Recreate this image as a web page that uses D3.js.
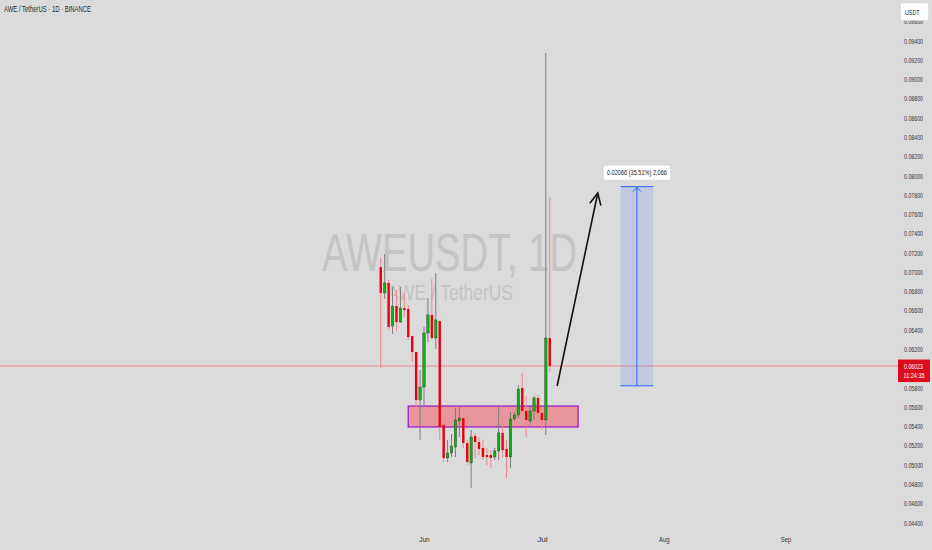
<!DOCTYPE html>
<html>
<head>
<meta charset="utf-8">
<script src="https://cdn.jsdelivr.net/npm/d3@7/dist/d3.min.js"></script>
<style>
  html, body { margin: 0; padding: 0; background: #dbdbdb; }
  svg { display: block; font-family: "Liberation Sans", Arial, sans-serif; }
</style>
</head>
<body>
<svg id="chart" width="932" height="550"></svg>
<script>
// ---------------- DATA ----------------
const dates = ["2025-05-21","2025-05-22","2025-05-23","2025-05-24","2025-05-25","2025-05-26","2025-05-27","2025-05-28","2025-05-29","2025-05-30","2025-05-31",
  "2025-06-01","2025-06-02","2025-06-03","2025-06-04","2025-06-05","2025-06-06","2025-06-07","2025-06-08","2025-06-09","2025-06-10",
  "2025-06-11","2025-06-12","2025-06-13","2025-06-14","2025-06-15","2025-06-16","2025-06-17","2025-06-18","2025-06-19","2025-06-20",
  "2025-06-21","2025-06-22","2025-06-23","2025-06-24","2025-06-25","2025-06-26","2025-06-27","2025-06-28","2025-06-29","2025-06-30",
  "2025-07-01","2025-07-02","2025-07-03"];
const open  = [0.07050,0.06781,0.06885,0.06438,0.06646,0.06480,0.06625,0.06615,0.06335,0.06169,0.05671,
  0.05806,0.06366,0.06553,0.06314,0.06490,0.05412,0.05069,0.05121,0.05183,0.05453,
  0.05484,0.05225,0.05017,0.05298,0.05235,0.05173,0.05100,0.05100,0.05080,0.05142,
  0.05329,0.05163,0.05080,0.05474,0.05516,0.05795,0.05557,0.05453,0.05557,0.05692,
  0.05536,0.05464,0.06314];
const high  = [0.07144,0.07185,0.06916,0.06843,0.06812,0.06843,0.06781,0.06656,0.06335,0.06169,0.05982,
  0.06428,0.06729,0.06926,0.06988,0.06501,0.05484,0.05256,0.05318,0.05588,0.05609,
  0.05495,0.05256,0.05360,0.05329,0.05287,0.05256,0.05173,0.05152,0.05173,0.05598,
  0.05464,0.05256,0.05547,0.05547,0.05826,0.05951,0.05713,0.05598,0.05713,0.05723,
  0.05547,0.09270,0.07777];
const low   = [0.06003,0.06719,0.06397,0.06356,0.06387,0.06470,0.06532,0.06293,0.06065,0.05588,0.05256,
  0.05619,0.06273,0.06293,0.06200,0.05256,0.05028,0.05028,0.05080,0.05080,0.05287,
  0.05173,0.04996,0.04758,0.05069,0.05100,0.05048,0.04996,0.04966,0.05048,0.05048,
  0.05069,0.04862,0.04966,0.05453,0.05484,0.05536,0.05287,0.05412,0.05464,0.05464,
  0.05360,0.05308,0.05961];
const close = [0.06781,0.06885,0.06428,0.06646,0.06480,0.06625,0.06604,0.06324,0.06169,0.05671,0.05806,
  0.06366,0.06553,0.06314,0.06501,0.05391,0.05069,0.05121,0.05194,0.05464,0.05484,
  0.05225,0.05028,0.05287,0.05235,0.05163,0.05080,0.05080,0.05069,0.05142,0.05329,
  0.05152,0.05080,0.05474,0.05516,0.05785,0.05557,0.05464,0.05557,0.05692,0.05536,
  0.05464,0.06314,0.06023];

// 0.06000 is hidden behind the last-price label in the reference
const yTicks = [0.04400,0.04600,0.04800,0.05000,0.05200,0.05400,0.05600,0.05800,0.06200,0.06400,0.06600,0.06800,0.07000,0.07200,0.07400,0.07600,0.07800,0.08000,0.08200,0.08400,0.08600,0.08800,0.09000,0.09200,0.09400,0.09600];
const monthTicks = ["2025-06-01","2025-07-01","2025-08-01","2025-09-01"];

const lastPrice = 0.06023;
const countdown = "11:24:35";
const zone = { start: "2025-05-28", end: "2025-07-10T05:00", low: 0.05391, high: 0.05608 };
const arrowPts = [["2025-07-04T21:00", 0.05816], ["2025-07-15T05:00", 0.07818]];
const measure = { start: "2025-07-21", end: "2025-07-29T08:00", low: 0.05818, high: 0.07884 };
const measureText = "0.02066 (35.51%) 2,066";
const titleText = "AWE / TetherUS · 1D · BINANCE";
const watermark1 = "AWEUSDT, 1D";
const watermark2 = "AWE / TetherUS";

// ---------------- SCALES ----------------
const svg = d3.select("#chart");
const W = 932, H = 550;
const parse = d3.utcParse("%Y-%m-%d");
const parseT = s => s.length > 10 ? d3.utcParse("%Y-%m-%dT%H:%M")(s) : parse(s);

const x = d3.scaleUtc().domain([parse("2025-06-01"), parse("2025-09-01")]).range([424, 785.6]);
const y = d3.scaleLinear().domain([0.044, 0.094]).range([522.5, 40.5]);

svg.append("rect").attr("width", W).attr("height", H).attr("fill", "#dbdbdb");

// title
svg.append("text").attr("x", 4).attr("y", 12).attr("font-size", 8.5).attr("fill", "#2a2a2a")
  .attr("textLength", 87).attr("lengthAdjust", "spacingAndGlyphs").text(titleText);

// watermark
svg.append("text").attr("x", 322).attr("y", 271).attr("font-size", 53).attr("fill", "#c4c4c4")
  .attr("textLength", 255).attr("lengthAdjust", "spacingAndGlyphs").text(watermark1);
svg.append("text").attr("x", 387).attr("y", 300).attr("font-size", 22).attr("fill", "#c4c4c4")
  .attr("textLength", 126).attr("lengthAdjust", "spacingAndGlyphs").text(watermark2);

// last price line
svg.append("line").attr("x1", 0).attr("x2", 898).attr("y1", y(lastPrice)).attr("y2", y(lastPrice))
  .attr("stroke", "#ef7a82").attr("stroke-width", 0.8);

// demand zone
svg.append("rect")
  .attr("x", x(parseT(zone.start))).attr("y", y(zone.high))
  .attr("width", x(parseT(zone.end)) - x(parseT(zone.start)))
  .attr("height", y(zone.low) - y(zone.high))
  .attr("fill", "#e8959c").attr("stroke", "#a12bc0").attr("stroke-width", 1.4);

// candles
const candles = dates.map((d, i) => ({ d: parse(d), o: open[i], h: high[i], l: low[i], c: close[i] }));
const bw = 2.4;
const g = svg.append("g");
candles.forEach(k => {
  const up = k.c >= k.o;
  const cx = x(k.d);
  g.append("line").attr("x1", cx).attr("x2", cx).attr("y1", y(k.h)).attr("y2", y(k.l))
    .attr("stroke", up ? "#7c7c7c" : "#f0868d").attr("stroke-width", 1);
  const top = y(Math.max(k.o, k.c)), bot = y(Math.min(k.o, k.c));
  g.append("rect").attr("x", cx - bw / 2).attr("y", top).attr("width", bw)
    .attr("height", Math.max(1, bot - top))
    .attr("fill", up ? "#0db30d" : "#e8000f")
    .attr("stroke", up ? "#333" : "none").attr("stroke-width", up ? 0.4 : 0);
});

// black arrow
const ax1 = x(parseT(arrowPts[0][0])), ay1 = y(arrowPts[0][1]);
const ax2 = x(parseT(arrowPts[1][0])), ay2 = y(arrowPts[1][1]);
svg.append("line").attr("x1", ax1).attr("y1", ay1).attr("x2", ax2).attr("y2", ay2)
  .attr("stroke", "#111").attr("stroke-width", 1.6);
{
  const ang = Math.atan2(ay2 - ay1, ax2 - ax1);
  const L = 13, spread = 0.45;
  const p1 = [ax2 - L * Math.cos(ang - spread), ay2 - L * Math.sin(ang - spread)];
  const p2 = [ax2 - L * Math.cos(ang + spread), ay2 - L * Math.sin(ang + spread)];
  svg.append("path").attr("d", `M${p1[0]},${p1[1]}L${ax2},${ay2}L${p2[0]},${p2[1]}`)
    .attr("fill", "none").attr("stroke", "#111").attr("stroke-width", 1.6);
}

// measure rectangle
const mx1 = x(parseT(measure.start)), mx2 = x(parseT(measure.end));
const my1 = y(measure.high), my2 = y(measure.low);
svg.append("rect").attr("x", mx1).attr("y", my1).attr("width", mx2 - mx1).attr("height", my2 - my1)
  .attr("fill", "rgba(41,98,255,0.15)");
svg.append("line").attr("x1", mx1).attr("x2", mx2).attr("y1", my1).attr("y2", my1).attr("stroke", "#2962ff").attr("stroke-width", 1);
svg.append("line").attr("x1", mx1).attr("x2", mx2).attr("y1", my2).attr("y2", my2).attr("stroke", "#2962ff").attr("stroke-width", 1);
const mcx = (mx1 + mx2) / 2;
svg.append("line").attr("x1", mcx).attr("x2", mcx).attr("y1", my2).attr("y2", my1).attr("stroke", "#2962ff").attr("stroke-width", 1);
svg.append("path").attr("d", `M${mcx - 4},${my1 + 5}L${mcx},${my1 + 1}L${mcx + 4},${my1 + 5}`)
  .attr("fill", "none").attr("stroke", "#2962ff").attr("stroke-width", 1);
// measure label
svg.append("rect").attr("x", mcx - 33.5).attr("y", my1 - 21.5).attr("width", 67).attr("height", 15)
  .attr("rx", 2).attr("fill", "#ffffff").attr("stroke", "#cfcfcf").attr("stroke-width", 0.5);
svg.append("text").attr("x", mcx).attr("y", my1 - 11.3).attr("text-anchor", "middle")
  .attr("font-size", 7.5).attr("fill", "#1a1a1a")
  .attr("textLength", 60).attr("lengthAdjust", "spacingAndGlyphs").text(measureText);

// y axis (right)
const yAxis = d3.axisRight(y).tickValues(yTicks).tickFormat(d3.format(".5f")).tickSize(0).tickPadding(0);
const yg = svg.append("g").attr("transform", "translate(904,0)").call(yAxis);
yg.select(".domain").remove();
yg.selectAll("text").attr("font-size", 8).attr("fill", "#333")
  .attr("font-family", "Liberation Sans, Arial, sans-serif")
  .attr("textLength", 19).attr("lengthAdjust", "spacingAndGlyphs");

// USDT box
svg.append("rect").attr("x", 900.5).attr("y", 3).attr("width", 28).attr("height", 17.5).attr("rx", 2)
  .attr("fill", "#ffffff").attr("stroke", "#d0d0d0").attr("stroke-width", 0.5);
svg.append("text").attr("x", 905).attr("y", 14.5).attr("font-size", 8).attr("fill", "#222")
  .attr("textLength", 14.5).attr("lengthAdjust", "spacingAndGlyphs").text("USDT");

// last price label
svg.append("rect").attr("x", 898).attr("y", y(lastPrice) - 6.5).attr("width", 32).attr("height", 22.5)
  .attr("fill", "#dd0b1e");
svg.append("text").attr("x", 904).attr("y", y(lastPrice) + 2.6).attr("font-size", 7.5).attr("fill", "#fff")
  .attr("textLength", 19).attr("lengthAdjust", "spacingAndGlyphs").text(d3.format(".5f")(lastPrice));
svg.append("text").attr("x", 903.5).attr("y", y(lastPrice) + 12.4).attr("font-size", 7.5).attr("fill", "#fff")
  .attr("textLength", 21).attr("lengthAdjust", "spacingAndGlyphs").text(countdown);

// x axis
const xAxis = d3.axisBottom(x).tickValues(monthTicks.map(parse)).tickFormat(d3.utcFormat("%b")).tickSize(0).tickPadding(0);
const xg = svg.append("g").attr("transform", "translate(0,536)").call(xAxis);
xg.select(".domain").remove();
xg.selectAll("text").attr("font-size", 8).attr("fill", "#333")
  .attr("font-family", "Liberation Sans, Arial, sans-serif")
  .attr("textLength", 10.5).attr("lengthAdjust", "spacingAndGlyphs");
</script>
</body>
</html>
